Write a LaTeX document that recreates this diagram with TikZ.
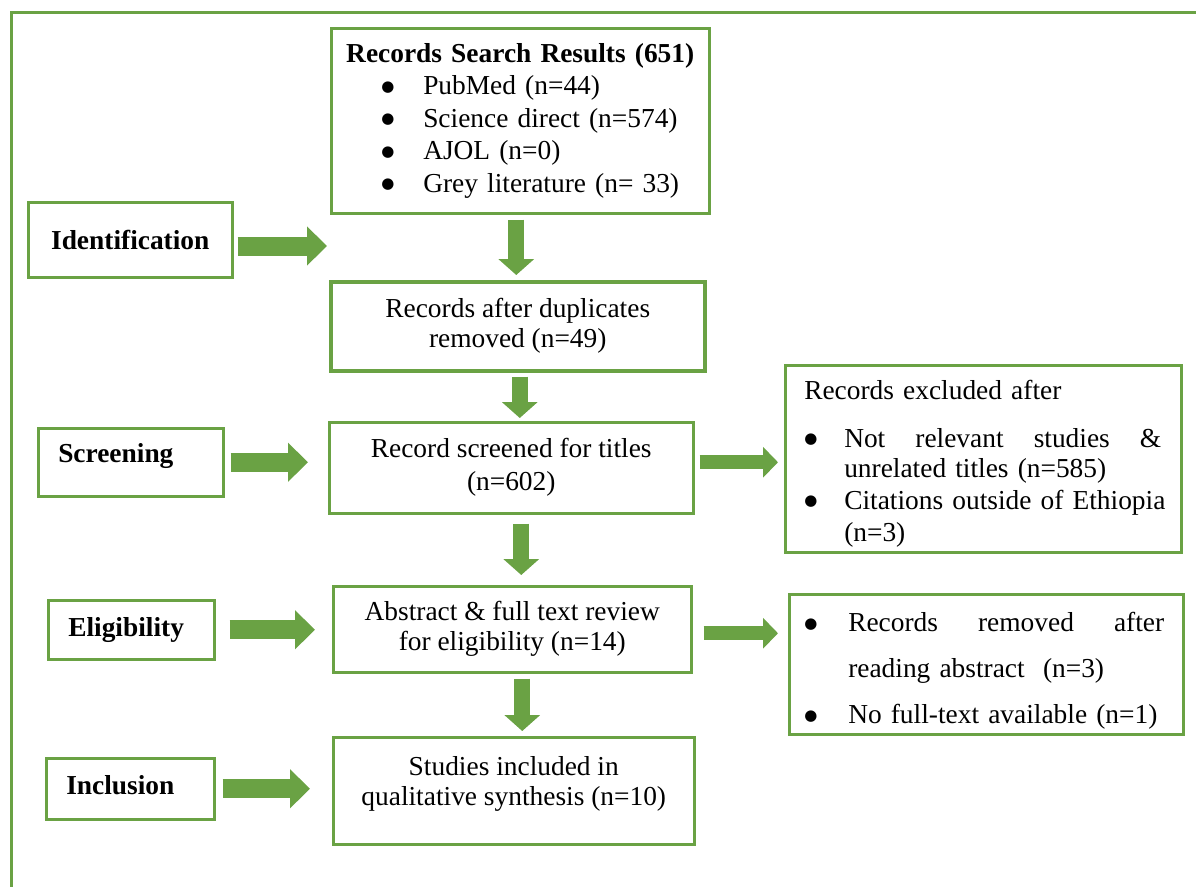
\documentclass[tikz,border=0pt]{standalone}
\usepackage{fontspec}
\setmainfont{Liberation Serif}
\newfontfamily\symfont{DejaVu Sans}
\usepackage{xcolor}
\usetikzlibrary{arrows.meta}
\definecolor{prgreen}{HTML}{6AA244}
\newcommand{\bul}{{\symfont\fontsize{15}{15}\selectfont\raisebox{3.5pt}{●}}}

\begin{document}
\begin{tikzpicture}[x=1pt, y=-1pt,
            every node/.append style = {font=\fontsize{27.4}{30}\selectfont, inner sep=0pt},
            pbox/.style = {draw=prgreen, line width=2.5pt, anchor=north west, align=center},
            stage/.style = {pbox, font=\fontsize{27.4}{30}\selectfont\bfseries, inner xsep=20pt, align=left},
            varrow/.style = {draw=prgreen, line width=16pt, -{Triangle[length=16pt,width=35pt]}},
            larrow/.style = {draw=prgreen, line width=19pt, -{Triangle[length=20pt,width=38pt]}},
            rarrow/.style = {draw=prgreen, line width=14pt, -{Triangle[length=15pt,width=30pt]}}]
        \useasboundingbox (0,0) rectangle (1196,887);
        % frame round the chart
        \draw[prgreen, line width=3pt] (1196,12) -| (11,887);

        % main column
        \node[pbox, minimum width=378pt, minimum height=185pt, text width=378pt, align=left,
              font=\fontsize{27.4}{32.5}\selectfont] (nrec) at (330,27)
            {\makebox[378pt]{\bfseries Records Search Results (651)}\\
             \hspace*{50pt}\makebox[42pt][l]{\bul}PubMed (n=44)\\
             \hspace*{50pt}\makebox[42pt][l]{\bul}Science direct (n=574)\\
             \hspace*{50pt}\makebox[42pt][l]{\bul}AJOL (n=0)\\
             \hspace*{50pt}\makebox[42pt][l]{\bul}Grey literature (n= 33)};
        \node[pbox, line width=3.5pt, minimum width=374pt, minimum height=89pt] (ndup) at (329,280)
            {Records after duplicates\\removed (n=49)};
        \node[pbox, minimum width=364pt, minimum height=91pt] (nttl) at (328,421)
            {Record screened for titles\\[3pt](n=602)};
        \node[pbox, minimum width=358pt, minimum height=86pt] (nabs) at (332,585)
            {Abstract \& full text review\\for eligibility (n=14)};
        \node[pbox, minimum width=361pt, minimum height=107pt, text depth=20pt] (nsyn) at (332,736)
            {Studies included in\\qualitative synthesis (n=10)};

        % stages
        \node[stage, minimum width=204pt, minimum height=75pt, text width=164pt, align=center] (nid) at (27,201) {Identification};
        \node[stage, minimum width=185pt, minimum height=68pt, text width=145pt, text depth=18pt] (nsc) at (37,427) {Screening};
        \node[stage, minimum width=166pt, minimum height=59pt, text width=126pt] (nel) at (47,599) {Eligibility};
        \node[stage, minimum width=168pt, minimum height=61pt, text width=128pt, text depth=8pt] (nin) at (45,757) {Inclusion};

        % exclusions
        \node[pbox, minimum width=396pt, minimum height=187pt, text width=396pt, align=left, text height=29pt] (nexc) at (784,364)
            {\hspace*{19pt}Records excluded after\\[18pt]
             \hspace*{19pt}\makebox[40pt][l]{\bul}\makebox[317pt]{Not\hfill relevant\hfill studies\hfill \&}\\
             \hspace*{59pt}unrelated titles (n=585)\\[2pt]
             \hspace*{19pt}\makebox[40pt][l]{\bul}Citations outside of Ethiopia\\[2pt]
             \hspace*{59pt}(n=3)};
        \node[pbox, minimum width=394pt, minimum height=140pt, text width=394pt, align=left, text height=33pt] (nrem) at (788,593)
            {\hspace*{15pt}\makebox[44pt][l]{\bul}\makebox[316pt]{Records\hfill removed\hfill after}\\[16pt]
             \hspace*{59pt}reading abstract\ \ (n=3)\\[16pt]
             \hspace*{15pt}\makebox[44pt][l]{\bul}No full-text available (n=1)};

        % down arrows
        \draw[varrow, shorten <=5pt, shorten >=5pt] ([xshift=-4pt]nrec.south) -- ([xshift=-4pt]nrec.south |- ndup.north);
        \draw[varrow, shorten <=4pt, shorten >=3pt] ([xshift=2pt]ndup.south) -- ([xshift=2pt]ndup.south |- nttl.north);
        \draw[varrow, shorten <=9pt, shorten >=10pt] ([xshift=10pt]nttl.south) -- ([xshift=10pt]nttl.south |- nabs.north);
        \draw[varrow, shorten <=5pt, shorten >=5pt] ([xshift=10pt]nabs.south) -- ([xshift=10pt]nabs.south |- nsyn.north);

        % side arrows
        \coordinate (cid) at (327,246);
        \draw[larrow, shorten <=4pt] (nid.east |- cid) -- (cid);
        \draw[larrow, shorten <=6pt, shorten >=20pt] (nsc.east) -- (nsc.east -| nttl.west);
        \draw[larrow, shorten <=14pt, shorten >=17pt] (nel.east) -- (nel.east -| nabs.west);
        \draw[larrow, shorten <=7pt, shorten >=22pt] (nin.east) -- (nin.east -| nsyn.west);
        \draw[rarrow, shorten <=5pt, shorten >=6pt] (nttl.east |- nsc.east) -- (nexc.west |- nsc.east);
        \draw[rarrow, shorten <=11pt, shorten >=10pt] ([yshift=-4pt]nabs.east) -- ([yshift=-4pt]nabs.east -| nrem.west);
\end{tikzpicture}
\end{document}
